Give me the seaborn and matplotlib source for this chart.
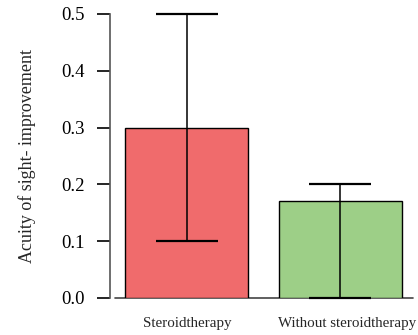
import matplotlib
matplotlib.use("Agg")
import matplotlib.pyplot as plt
import matplotlib.transforms as mtransforms
import seaborn as sns
import pandas as pd
import numpy as np

# Data
groups = ["Steroidtherapy", "Without steroidtherapy"]
means = [0.30, 0.17]
err_low = [0.10, 0.00]
err_high = [0.50, 0.20]
colors = ["#F06B6C", "#9DCF87"]
yticks = [0.0, 0.1, 0.2, 0.3, 0.4, 0.5]

sns.set_style("white")
plt.rcParams["font.family"] = ["Liberation Serif", "DejaVu Serif"]

W, H = 418, 335
fig = plt.figure(figsize=(W / 100, H / 100), dpi=100)
ax = fig.add_axes([110 / W, (H - 298) / H, 307 / W, 284 / H])

df = pd.DataFrame({"group": groups, "mean": means})
sns.barplot(data=df, x="group", y="mean", hue="group", palette=colors,
            order=groups, hue_order=groups, legend=False, errorbar=None,
            width=0.8, saturation=1, edgecolor="black", linewidth=1.0,
            ax=ax, zorder=2)

m = np.array(means)
yerr = np.vstack([m - np.array(err_low), np.array(err_high) - m])
ax.errorbar(np.arange(len(groups)), m, yerr=yerr, fmt="none", ecolor="black",
            elinewidth=1.1, capsize=22, capthick=1.6, zorder=3, clip_on=False)

ax.set_xlim(-0.5, 1.5)
ax.set_ylim(0, 0.5)
ax.set_yticks(yticks)
ax.set_yticklabels([f"{v:.1f}" for v in yticks], fontsize=13.5)
ax.tick_params(axis="y", length=9.5, width=1.2, pad=9, colors="black", left=True)
ax.tick_params(axis="x", length=0, pad=14, labelsize=10.8)
ax.set_xlabel("")
ax.set_ylabel("Acuity of sight- improvement", fontsize=13, labelpad=18)

# nudge the long second category label slightly to the right
lbl = ax.get_xticklabels()[1]
lbl.set_transform(lbl.get_transform() +
                  mtransforms.ScaledTranslation(7 / 100, 0, fig.dpi_scale_trans))

for s in ["top", "right", "bottom"]:
    ax.spines[s].set_visible(False)
ax.spines["left"].set_color("#555555")
ax.spines["left"].set_linewidth(1.2)
ax.axhline(0, xmin=5 / 307, xmax=303 / 307, color="#444444", lw=1.2,
           clip_on=False, zorder=1)

fig.savefig("out.png", dpi=100)
